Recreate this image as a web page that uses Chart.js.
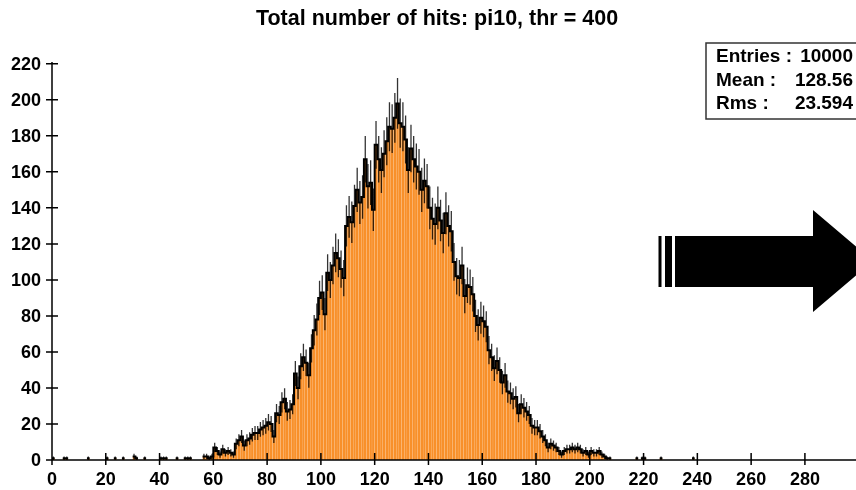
<!DOCTYPE html>
<html>
<head>
<meta charset="utf-8">
<script src="https://cdn.jsdelivr.net/npm/chart.js@4.4.0/dist/chart.umd.min.js"></script>
<style>
  html, body { margin: 0; padding: 0; background: #fff; }
  canvas { display: block; }
</style>
</head>
<body>
<canvas id="hits" width="856" height="490"></canvas>
<script>
// number of hits per event, 1-wide bins; dense part starts at bin 55
const firstBin = 55;
const hitCounts = [
  0, 2, 2, 1, 2, 7, 5, 3, 6, 4,          // 55-64
  5, 4, 3, 9, 11, 13, 8, 11, 12, 14,      // 65-74
  15, 15, 17, 18, 19, 21, 20, 13, 26, 25, // 75-84
  32, 34, 27, 28, 31, 48, 40, 52, 57, 54, // 85-94
  47, 62, 72, 78, 90, 93, 81, 104, 100, 108,      // 95-104
  115, 112, 106, 101, 130, 135, 132, 141, 150, 143, // 105-114
  146, 167, 152, 154, 139, 175, 167, 161, 170, 177, // 115-124
  185, 184, 190, 198, 187, 185, 178, 161, 173, 167, // 125-134
  163, 160, 150, 155, 152, 140, 134, 131, 140, 133, // 135-144
  126, 137, 130, 127, 110, 102, 101, 108, 91, 97,   // 145-154
  96, 92, 80, 75, 79, 77, 74, 61, 57, 51, // 155-164
  55, 50, 43, 47, 38, 37, 34, 35, 26, 31, // 165-174
  29, 27, 25, 19, 18, 18, 16, 13, 11, 7,  // 175-184
  9, 8, 7, 5, 3, 5, 6, 6, 7, 6,           // 185-194
  7, 6, 4, 5, 3, 5, 4, 4, 5, 3,           // 195-204
  2, 1, 1                                 // 205-207
];
// isolated low and high entries
const lowTailBins   = [0, 4, 5, 13, 20, 23, 26, 30, 31, 34, 40, 41, 42, 46, 49, 50, 51];
const lowTailCounts = [1, 1, 1, 1, 1, 1, 1, 2, 1, 1, 1, 1, 1, 1, 1, 1, 1];
const highTailBins   = [217, 219, 220, 226, 238];
const highTailCounts = [1, 1, 1, 1, 1];

const xTicks = [0, 20, 40, 60, 80, 100, 120, 140, 160, 180, 200, 220, 240, 260, 280];
const yTicks = [0, 20, 40, 60, 80, 100, 120, 140, 160, 180, 200, 220];

const titleText = 'Total number of hits: pi10, thr = 400';
const statLabels = ['Entries :', 'Mean :', 'Rms :'];
const statValues = ['10000', '128.56', '23.594'];

// collect all filled bins
const bins = [];
lowTailBins.forEach((b, i) => bins.push({ bin: b, n: lowTailCounts[i] }));
hitCounts.forEach((n, i) => { if (n > 0) bins.push({ bin: firstBin + i, n: n }); });
highTailBins.forEach((b, i) => bins.push({ bin: b, n: highTailCounts[i] }));
const barData = bins.map(d => ({ x: d.bin + 0.5, y: d.n }));

const FONT = '"Liberation Sans", Arial, Helvetica, sans-serif';

const rootStyle = {
  id: 'rootStyle',
  afterDatasetsDraw(chart) {
    const ctx = chart.ctx;
    const xs = chart.scales.x, ys = chart.scales.y;
    const area = chart.chartArea;
    const X = v => xs.getPixelForValue(v);
    const Y = v => ys.getPixelForValue(v);

    ctx.save();

    // error bars
    ctx.strokeStyle = 'rgba(0,0,0,0.8)';
    ctx.lineWidth = 1.3;
    ctx.beginPath();
    bins.forEach(d => {
      const e = Math.sqrt(d.n);
      const cx = X(d.bin + 0.5);
      ctx.moveTo(cx, Y(Math.max(0, d.n - e)));
      ctx.lineTo(cx, Y(d.n + e));
    });
    ctx.stroke();

    // bin tops as a step line
    ctx.strokeStyle = '#000';
    ctx.lineWidth = 2;
    ctx.beginPath();
    let prev = null;
    bins.forEach(d => {
      const x0 = X(d.bin), x1 = X(d.bin + 1), y = Y(d.n);
      if (prev && prev.bin === d.bin - 1) {
        ctx.lineTo(x0, y);
      } else {
        ctx.moveTo(x0, y);
      }
      ctx.lineTo(x1, y);
      prev = d;
    });
    ctx.stroke();

    // axes
    ctx.strokeStyle = '#000';
    ctx.lineWidth = 1.5;
    ctx.beginPath();
    ctx.moveTo(area.left, Y(0));
    ctx.lineTo(chart.width, Y(0));
    ctx.moveTo(area.left, Y(0));
    ctx.lineTo(area.left, area.top);
    xTicks.forEach(t => {
      ctx.moveTo(X(t), Y(0) - 7);
      ctx.lineTo(X(t), Y(0) + 5);
    });
    yTicks.forEach(t => {
      ctx.moveTo(area.left - 6, Y(t));
      ctx.lineTo(area.left + 6, Y(t));
    });
    ctx.stroke();

    ctx.fillStyle = '#000';
    ctx.font = 'bold 18px ' + FONT;
    ctx.textAlign = 'center';
    ctx.textBaseline = 'middle';
    xTicks.forEach(t => ctx.fillText(String(t), X(t), 480));
    ctx.textAlign = 'right';
    yTicks.forEach(t => ctx.fillText(String(t), area.left - 11, Y(t) + 1));

    // title
    ctx.textAlign = 'center';
    ctx.font = 'bold 21.5px ' + FONT;
    ctx.fillText(titleText, 437, 19);

    // statistics box
    ctx.fillStyle = '#fff';
    ctx.fillRect(706, 43, 155, 76);
    ctx.strokeStyle = '#333';
    ctx.lineWidth = 1.5;
    ctx.strokeRect(706, 43, 155, 76);
    ctx.fillStyle = '#000';
    ctx.font = 'bold 19px ' + FONT;
    statLabels.forEach((s, i) => {
      const y = 57 + i * 23.5;
      ctx.textAlign = 'left';
      ctx.fillText(s, 716, y);
      ctx.textAlign = 'right';
      ctx.fillText(statValues[i], 853, y);
    });

    // arrow
    ctx.fillStyle = '#000';
    ctx.fillRect(658.5, 236, 3, 51);
    ctx.fillRect(665, 236, 7, 51);
    ctx.beginPath();
    ctx.moveTo(675, 236);
    ctx.lineTo(813, 236);
    ctx.lineTo(813, 210);
    ctx.lineTo(873, 261);
    ctx.lineTo(813, 312);
    ctx.lineTo(813, 287);
    ctx.lineTo(675, 287);
    ctx.closePath();
    ctx.fill();

    ctx.restore();
  }
};

new Chart(document.getElementById('hits'), {
  type: 'bar',
  data: {
    datasets: [{
      data: barData,
      backgroundColor: '#f8902a',
      borderWidth: 0,
      barPercentage: 0.94,
      categoryPercentage: 1
    }]
  },
  options: {
    responsive: false,
    animation: false,
    devicePixelRatio: 1,
    layout: { padding: { left: 52, top: 62, right: 0, bottom: 30 } },
    scales: {
      x: { type: 'linear', min: 0, max: 299, offset: false, display: false },
      y: { min: 0, max: 221, display: false }
    },
    plugins: {
      legend: { display: false },
      tooltip: { enabled: false }
    }
  },
  plugins: [rootStyle]
});
</script>
</body>
</html>
